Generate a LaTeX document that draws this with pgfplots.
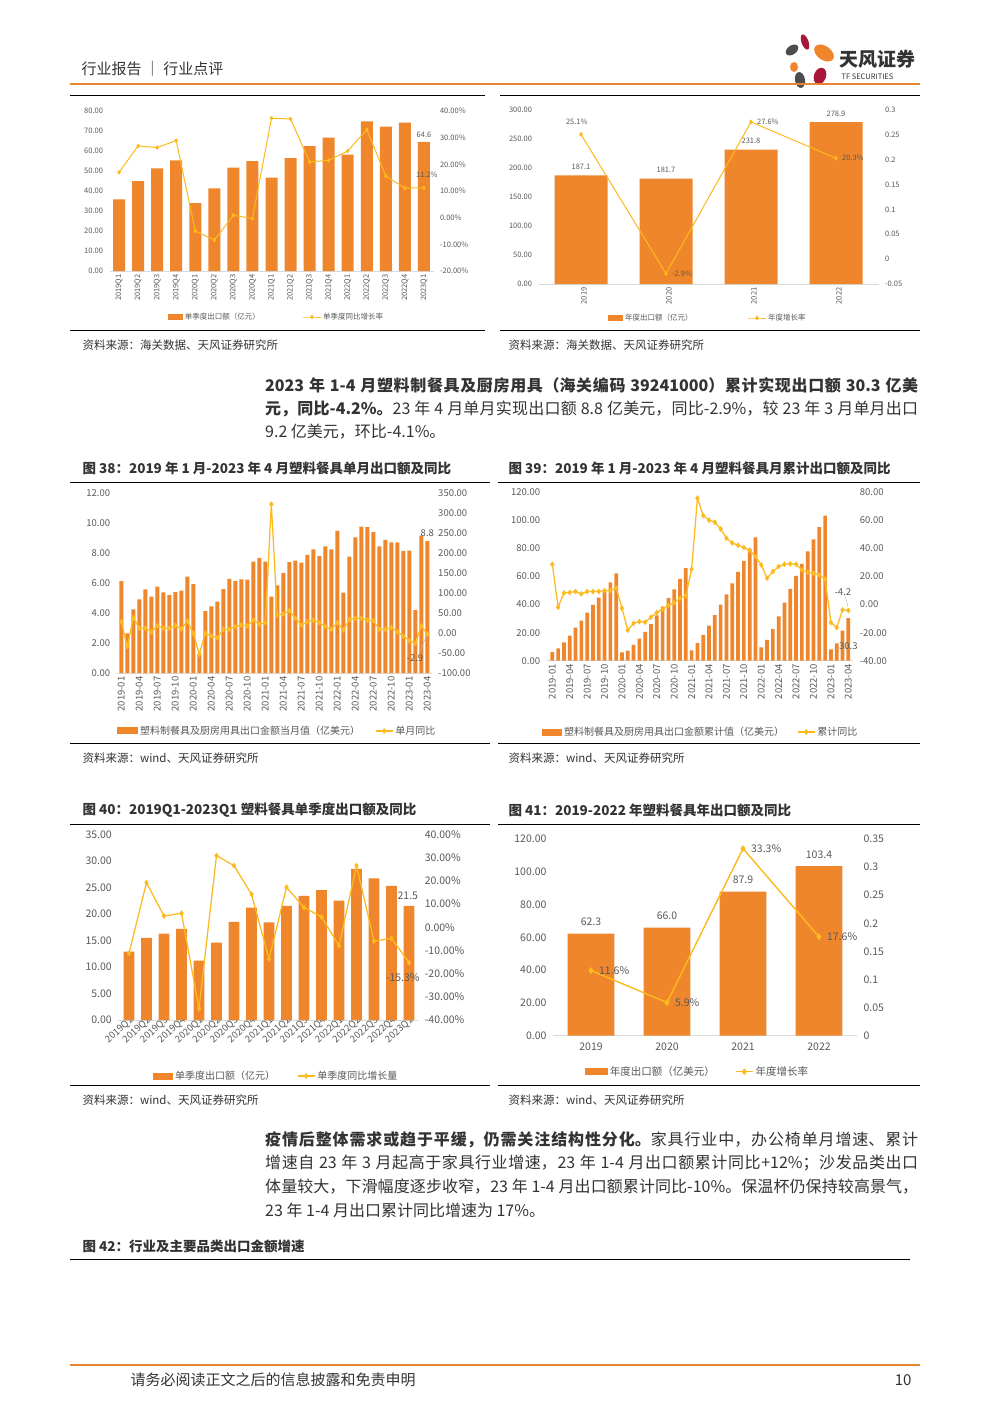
\documentclass[border=0pt]{standalone}
\usepackage{pgfplots}
\pgfplotsset{compat=1.18}
\usepackage{fontspec}
\setmainfont{Noto Sans CJK SC}
\XeTeXlinebreaklocale "zh"
\XeTeXlinebreakskip=0pt plus 1pt minus 0.5pt

\definecolor{barc}{HTML}{F0862B}
\definecolor{linec}{HTML}{FBBA1E}
\definecolor{hdr}{HTML}{E8862F}
\definecolor{thin}{HTML}{F5BC94}
\definecolor{tickc}{HTML}{595959}
\definecolor{axc}{HTML}{D9D9D9}
\definecolor{txt}{HTML}{333333}
\definecolor{logored}{HTML}{A8173A}
\definecolor{logogrey}{HTML}{4D4D4D}

\newcommand{\fs}[1]{\fontsize{#1}{#1}\selectfont}
\newcommand{\jline}[1]{\parbox{653pt}{\parfillskip=0pt\parindent=0pt #1\par}}

\pgfplotsset{
  base/.style={scale only axis, anchor=south west, enlargelimits=false, clip=false,
    major tick length=0pt,
    tick label style={font=\fs{#1}, text=tickc},
    legend style={draw=none, fill=none, inner sep=0pt, outer sep=0pt, anchor=west,
      text=tickc},
    legend cell align=left},
  lax/.style={base=#1, axis x line*=bottom, axis y line*=left,
    y axis line style={draw=none}, x axis line style={draw=axc, line width=0.8pt},
    yticklabel style={xshift=-3pt}},
  rax/.style={base=#1, axis x line=none, axis y line*=right,
    y axis line style={draw=none}, xtick=\empty, yticklabel style={xshift=3pt}},
  ln/.style={linec, line width=1.25pt, mark=diamond*, mark size=1.9pt,
    mark options={fill=linec, draw=linec}},
}

\begin{document}
\begin{tikzpicture}
\begin{scope}[x=1pt,y=-1pt]
\fill[white] (0,0) rectangle (1000,1413);
\useasboundingbox (0,0) rectangle (1000,1413);

% ---------- header ----------
\node[anchor=west, font=\fs{15}, text=txt] at (78,69) {行业报告 ｜ 行业点评};
\fill[logored, rotate around={20:(805,42)}] (805,42) ellipse (3.5 and 8);
\fill[barc, rotate around={-35:(824,53)}] (824,53) ellipse (11 and 7);
\fill[logogrey, rotate around={35:(792,50)}] (792,50) ellipse (7 and 4.5);
\fill[barc] (794,67) ellipse (4 and 5);
\fill[logogrey, rotate around={10:(800,80)}] (800,80) ellipse (5 and 8);
\fill[logored, rotate around={-20:(820,76)}] (820,76) ellipse (6 and 8.5);
\node[anchor=west, font=\bfseries\fs{19}, text=txt] at (836,59) {天风证券};
\node[anchor=west, font=\fs{7.5}, text=txt] at (838,77) {TF SECURITIES};
\draw[hdr, line width=2.5pt] (70,84) -- (920,84);

% ---------- separators ----------
\foreach \yy in {95,330} {
  \draw[thin, line width=0.8pt] (70,\yy) -- (485,\yy);
  \draw[thin, line width=0.8pt] (500,\yy) -- (920,\yy);
}
\foreach \yy in {482,743,824,1085} {
  \draw[thin, line width=0.8pt] (70,\yy) -- (490,\yy);
  \draw[thin, line width=0.8pt] (498,\yy) -- (920,\yy);
}
\draw[thin, line width=0.8pt] (70,1259) -- (910,1259);
\draw[hdr, line width=2.5pt] (70,1365) -- (920,1365);

% ---------- texts ----------
\node[anchor=west, font=\fs{11.5}, text=txt] at (79,345) {资料来源：海关数据、天风证券研究所};
\node[anchor=west, font=\fs{11.5}, text=txt] at (505,345) {资料来源：海关数据、天风证券研究所};
\node[anchor=west, font=\fs{11.5}, text=txt] at (79,758) {资料来源：wind、天风证券研究所};
\node[anchor=west, font=\fs{11.5}, text=txt] at (505,758) {资料来源：wind、天风证券研究所};
\node[anchor=west, font=\fs{11.5}, text=txt] at (79,1100) {资料来源：wind、天风证券研究所};
\node[anchor=west, font=\fs{11.5}, text=txt] at (505,1100) {资料来源：wind、天风证券研究所};

\node[anchor=west, font=\bfseries\fs{13.5}, text=txt] at (79,468) {图 38：2019 年 1 月-2023 年 4 月塑料餐具单月出口额及同比};
\node[anchor=west, font=\bfseries\fs{13.5}, text=txt] at (505,468) {图 39：2019 年 1 月-2023 年 4 月塑料餐具月累计出口额及同比};
\node[anchor=west, font=\bfseries\fs{13.5}, text=txt] at (79,810) {图 40：2019Q1-2023Q1 塑料餐具单季度出口额及同比};
\node[anchor=west, font=\bfseries\fs{13.5}, text=txt] at (505,810) {图 41：2019-2022 年塑料餐具年出口额及同比};
\node[anchor=west, font=\bfseries\fs{13.5}, text=txt] at (79,1246) {图 42：行业及主要品类出口金额增速};

\begin{scope}[every node/.style={anchor=west, font=\fs{16}, text=txt, inner sep=0pt}]
\node at (265,385) {\jline{\bfseries 2023 年 1-4 月塑料制餐具及厨房用具（海关编码 39241000）累计实现出口额 30.3 亿美}};
\node at (265,409) {\jline{{\bfseries 元，同比-4.2\%。}23 年 4 月单月实现出口额 8.8 亿美元，同比-2.9\%，较 23 年 3 月单月出口}};
\node at (265,432) {9.2 亿美元，环比-4.1\%。};
\node at (265,1140) {\jline{{\bfseries 疫情后整体需求或趋于平缓，仍需关注结构性分化。}家具行业中，办公椅单月增速、累计}};
\node at (265,1163) {\jline{增速自 23 年 3 月起高于家具行业增速，23 年 1-4 月出口额累计同比+12\%；沙发品类出口}};
\node at (265,1187) {\jline{体量较大，下滑幅度逐步收窄，23 年 1-4 月出口额累计同比-10\%。保温杯仍保持较高景气，}};
\node at (265,1210) {23 年 1-4 月出口累计同比增速为 17\%。};
\end{scope}
\node[anchor=west, font=\fs{15}, text=txt] at (127,1380) {请务必阅读正文之后的信息披露和免责申明};
\node[anchor=east, font=\fs{15}, text=txt] at (915,1380) {10};
\end{scope}

% ========== chart A: quarterly (top left) ==========
\begin{axis}[lax=7.5, at={(109.5pt,-271pt)}, width=324pt, height=160pt,
  xmin=-0.5, xmax=16.5, ymin=0, ymax=80, ytick={0,10,...,80},
  yticklabels={0.00,10.00,20.00,30.00,40.00,50.00,60.00,70.00,80.00},
  xtick={0,...,16},
  xticklabels={2019Q1,2019Q2,2019Q3,2019Q4,2020Q1,2020Q2,2020Q3,2020Q4,2021Q1,2021Q2,2021Q3,2021Q4,2022Q1,2022Q2,2022Q3,2022Q4,2023Q1},
  xticklabel style={rotate=90, anchor=east},
  legend style={at={(0.18,-0.2875)}, font=\fs{7.5}}]
\addplot[ybar, bar width=12pt, fill=barc, draw=none,
  legend image code/.code={\fill[barc] (0pt,-3pt) rectangle (15pt,3pt);}]
  coordinates {(0,35.8) (1,45.0) (2,51.3) (3,55.3) (4,34.0) (5,41.3) (6,51.7) (7,55.0) (8,46.7) (9,56.5) (10,62.5) (11,66.7) (12,58.2) (13,74.8) (14,72.2) (15,74.2) (16,64.6)};
\addlegendentry{单季度出口额（亿元）}
\node[above=1pt, font=\fs{7.5}, text=tickc] at (axis cs:16,64.6) {64.6};
\end{axis}
\begin{axis}[rax=7.5, at={(109.5pt,-271pt)}, width=324pt, height=160pt,
  xmin=-0.5, xmax=16.5, ymin=-20, ymax=40, ytick={-20,-10,...,40},
  yticklabels={-20.00\%,-10.00\%,0.00\%,10.00\%,20.00\%,30.00\%,40.00\%},
  legend style={at={(0.597,-0.2875)}, font=\fs{7.5}}]
\addplot[ln, line width=1pt, mark size=1.6pt] coordinates {(0,17.0) (1,26.9) (2,26.3) (3,28.9) (4,-5.0) (5,-8.4) (6,0.9) (7,-0.3) (8,37.3) (9,37.0) (10,20.9) (11,21.5) (12,25.0) (13,33.0) (14,15.6) (15,11.1) (16,11.2)};
\addlegendentry{单季度同比增长率}
\node[font=\fs{7.5}, text=tickc] at (axis cs:16.15,16.2) {11.2\%};
\end{axis}

% ========== chart B: yearly (top right) ==========
\begin{axis}[lax=7.5, at={(538.5pt,-284pt)}, width=340pt, height=174pt,
  xmin=-0.5, xmax=3.5, ymin=0, ymax=300, ytick={0,50,...,300},
  yticklabels={0.00,50.00,100.00,150.00,200.00,250.00,300.00},
  xtick={0,1,2,3}, xticklabels={2019,2020,2021,2022},
  xticklabel style={rotate=90, anchor=east, yshift=-3pt},
  legend style={at={(0.2044,-0.1954)}, font=\fs{7.5}}]
\addplot[ybar, bar width=53pt, fill=barc, draw=none,
  legend image code/.code={\fill[barc] (0pt,-3pt) rectangle (15pt,3pt);}]
  coordinates {(0,187.1) (1,181.7) (2,231.8) (3,278.9)};
\addlegendentry{年度出口额（亿元）}
\node[above=2pt, font=\fs{7.5}, text=tickc] at (axis cs:0,187.1) {187.1};
\node[above=2pt, font=\fs{7.5}, text=tickc] at (axis cs:1,181.7) {181.7};
\node[above=2pt, font=\fs{7.5}, text=tickc] at (axis cs:2,231.8) {231.8};
\node[above=2pt, font=\fs{7.5}, text=tickc] at (axis cs:3,278.9) {278.9};
\end{axis}
\begin{axis}[rax=7.5, at={(538.5pt,-284pt)}, width=340pt, height=174pt,
  xmin=-0.5, xmax=3.5, ymin=-0.05, ymax=0.3, ytick={-0.05,0,0.05,0.1,0.15,0.2,0.25,0.3},
  yticklabels={-0.05,0,0.05,0.1,0.15,0.2,0.25,0.3},
  legend style={at={(0.616,-0.1954)}, font=\fs{7.5}}]
\addplot[ln, line width=1pt, mark size=1.7pt] coordinates {(0,0.251) (1,-0.029) (2,0.276) (3,0.203)};
\addlegendentry{年度增长率}
\node[font=\fs{7.5}, text=tickc] at (axis cs:-0.05,0.276) {25.1\%};
\node[anchor=west, font=\fs{7.5}, text=tickc] at (axis cs:1.03,-0.029) {-2.9\%};
\node[anchor=west, font=\fs{7.5}, text=tickc] at (axis cs:2.03,0.276) {27.6\%};
\node[anchor=west, font=\fs{7.5}, text=tickc] at (axis cs:3.03,0.203) {20.3\%};
\end{axis}

% ========== chart C: fig 38 monthly ==========
\begin{axis}[lax=9.5, at={(116.7pt,-673pt)}, width=315pt, height=180pt,
  xmin=-0.77, xmax=51.73, ymin=0, ymax=12, ytick={0,2,...,12},
  yticklabels={0.00,2.00,4.00,6.00,8.00,10.00,12.00},
  xtick={0,3,...,51},
  xticklabels={2019-01,2019-04,2019-07,2019-10,2020-01,2020-04,2020-07,2020-10,2021-01,2021-04,2021-07,2021-10,2022-01,2022-04,2022-07,2022-10,2023-01,2023-04},
  xticklabel style={rotate=90, anchor=east},
  legend style={at={(0.001,-0.322)}, font=\fs{10}}]
\addplot[ybar, bar width=3.9pt, fill=barc, draw=none,
  legend image code/.code={\fill[barc] (0pt,-3.5pt) rectangle (21pt,3.5pt);}]
  coordinates {(0,6.13) (1,2.64) (2,4.24) (3,4.91) (4,5.58) (5,5.09) (6,5.76) (7,5.38) (8,5.20) (9,5.40) (10,5.49) (11,6.42)
  (12,5.93) (13,1.20) (14,4.13) (15,4.44) (16,4.76) (17,5.60) (18,6.27) (19,6.13) (20,6.24) (21,6.22) (22,7.42) (23,7.67)
  (24,7.42) (25,5.09) (26,5.84) (27,6.67) (28,7.40) (29,7.49) (30,7.36) (31,7.87) (32,8.24) (33,7.80) (34,8.44) (35,8.24)
  (36,9.47) (37,5.36) (38,7.76) (39,9.04) (40,9.76) (41,9.73) (42,9.40) (43,8.44) (44,8.87) (45,8.71) (46,8.71) (47,8.15)
  (48,8.16) (49,4.20) (50,9.16) (51,8.80)};
\addlegendentry{塑料制餐具及厨房用具出口金额当月值（亿美元）}
\node[above=1pt, font=\fs{9.5}, text=tickc] at (axis cs:51,8.8) {8.8};
\end{axis}
\begin{axis}[rax=9.5, at={(116.7pt,-673pt)}, width=315pt, height=180pt,
  xmin=-0.77, xmax=51.73, ymin=-100, ymax=350, ytick={-100,-50,...,350},
  yticklabels={-100.00,-50.00,0.00,50.00,100.00,150.00,200.00,250.00,300.00,350.00},
  legend style={at={(0.82,-0.322)}, font=\fs{10}}]
\addplot[ln] coordinates {(0,28) (1,-34) (2,38) (3,12) (4,12) (5,3) (6,18) (7,12) (8,12) (9,19) (10,10) (11,30)
  (12,-1) (13,-53) (14,-1) (15,-7) (16,-12) (17,9) (18,9) (19,16) (20,20) (21,18) (22,32) (23,22)
  (24,26) (25,322) (26,45) (27,47.5) (28,56) (29,37) (30,20) (31,28) (32,32) (33,26) (34,16) (35,9)
  (36,26) (37,7.5) (38,34) (39,37) (40,37) (41,32) (42,31) (43,9) (44,9) (45,14) (46,3) (47,-8)
  (48,-19) (49,-26) (50,18) (51,-2.9)};
\addlegendentry{单月同比}
\draw[gray!60, line width=0.4pt] (axis cs:49.6,-50) -- (axis cs:50.85,-8);
\node[font=\fs{9.5}, text=tickc] at (axis cs:48.95,-62.5) {-2.9};
\end{axis}

% ========== chart D: fig 39 cumulative ==========
\begin{axis}[lax=9.5, at={(546.7pt,-660.7pt)}, width=306.6pt, height=168.4pt,
  xmin=-0.97, xmax=51.86, ymin=0, ymax=120, ytick={0,20,...,120},
  yticklabels={0.00,20.00,40.00,60.00,80.00,100.00,120.00},
  xtick={0,3,...,51},
  xticklabels={2019-01,2019-04,2019-07,2019-10,2020-01,2020-04,2020-07,2020-10,2021-01,2021-04,2021-07,2021-10,2022-01,2022-04,2022-07,2022-10,2023-01,2023-04},
  xticklabel style={rotate=90, anchor=east},
  legend style={at={(-0.0153,-0.4234)}, font=\fs{10}}]
\addplot[ybar, bar width=3.7pt, fill=barc, draw=none,
  legend image code/.code={\fill[barc] (0pt,-3.5pt) rectangle (20pt,3.5pt);}]
  coordinates {(0,6.13) (1,8.77) (2,13.01) (3,17.92) (4,23.50) (5,28.59) (6,34.35) (7,39.73) (8,44.93) (9,50.33) (10,55.82) (11,62.24)
  (12,5.93) (13,7.13) (14,11.26) (15,15.70) (16,20.46) (17,26.06) (18,32.33) (19,38.46) (20,44.70) (21,50.92) (22,58.34) (23,66.01)
  (24,7.42) (25,12.51) (26,18.35) (27,25.02) (28,32.42) (29,39.91) (30,47.27) (31,55.14) (32,63.38) (33,71.18) (34,79.62) (35,87.86)
  (36,9.47) (37,14.83) (38,22.59) (39,31.63) (40,41.39) (41,51.12) (42,60.52) (43,68.96) (44,77.83) (45,86.54) (46,95.25) (47,103.40)
  (48,8.16) (49,12.36) (50,21.52) (51,30.32)};
\addlegendentry{塑料制餐具及厨房用具出口金额累计值（亿美元）}
\node[font=\fs{9.5}, text=tickc] at (axis cs:51.0,10.7) {30.3};
\end{axis}
\begin{axis}[rax=9.5, at={(546.7pt,-660.7pt)}, width=306.6pt, height=168.4pt,
  xmin=-0.97, xmax=51.86, ymin=-40, ymax=80, ytick={-40,-20,...,80},
  yticklabels={-40.00,-20.00,0.00,20.00,40.00,60.00,80.00},
  legend style={at={(0.8166,-0.4234)}, font=\fs{10}}]
\addplot[ln] coordinates {(0,28.7) (1,-1.9) (2,8.3) (3,8.6) (4,9.3) (5,7.6) (6,9.3) (7,9.3) (8,9.3) (9,10.0) (10,10.0) (11,11.9)
  (12,-2.6) (13,-18.3) (14,-13.3) (15,-12.1) (16,-12.6) (17,-9.0) (18,-5.7) (19,-3.3) (20,-0.7) (21,1.4) (22,4.5) (23,6.2)
  (24,25.2) (25,75.8) (26,63.4) (27,60.1) (28,58.7) (29,53.9) (30,47.3) (31,43.9) (32,42.3) (33,40.6) (34,38.7) (35,34.2)
  (36,28.3) (37,18.8) (38,23.5) (39,27.1) (40,28.7) (41,29.0) (42,28.7) (43,24.7) (44,23.0) (45,22.3) (46,21.1) (47,18.1)
  (48,-12.8) (49,-16.4) (50,-3.8) (51,-4.2)};
\addlegendentry{累计同比}
\draw[gray!60, line width=0.4pt] (axis cs:50.5,5.5) -- (axis cs:50.95,-1.5);
\node[font=\fs{9.5}, text=tickc] at (axis cs:50.07,9) {-4.2};
\end{axis}

% ========== chart E: fig 40 quarterly ==========
\begin{axis}[lax=10.5, at={(118.3pt,-1020pt)}, width=300pt, height=185.7pt,
  xmin=-0.61, xmax=16.53, ymin=0, ymax=35, ytick={0,5,...,35},
  yticklabels={0.00,5.00,10.00,15.00,20.00,25.00,30.00,35.00},
  xtick={0,...,16},
  xticklabels={2019Q1,2019Q2,2019Q3,2019Q4,2020Q1,2020Q2,2020Q3,2020Q4,2021Q1,2021Q2,2021Q3,2021Q4,2022Q1,2022Q2,2022Q3,2022Q4,2023Q1},
  xticklabel style={rotate=42, anchor=east, xshift=4pt, yshift=-1pt, font=\fs{9.5}, inner sep=1pt},
  legend style={at={(0.1157,-0.3016)}, font=\fs{10}}]
\addplot[ybar, bar width=10.7pt, fill=barc, draw=none,
  legend image code/.code={\fill[barc] (0pt,-3.5pt) rectangle (20pt,3.5pt);}]
  coordinates {(0,12.9) (1,15.5) (2,16.3) (3,17.2) (4,11.2) (5,14.6) (6,18.5) (7,21.2) (8,18.4) (9,21.5) (10,23.4) (11,24.5) (12,22.5) (13,28.5) (14,26.7) (15,25.3) (16,21.5)};
\addlegendentry{单季度出口额（亿元）}
\node[font=\fs{10.5}, text=tickc] at (axis cs:15.93,23.43) {21.5};
\end{axis}
\begin{axis}[rax=10.5, at={(118.3pt,-1020pt)}, width=300pt, height=185.7pt,
  xmin=-0.61, xmax=16.53, ymin=-40, ymax=40, ytick={-40,-30,...,40},
  yticklabels={-40.00\%,-30.00\%,-20.00\%,-10.00\%,0.00\%,10.00\%,20.00\%,30.00\%,40.00\%},
  legend style={at={(0.5957,-0.3016)}, font=\fs{10}}]
\addplot[ln] coordinates {(0,-11.3) (1,19.2) (2,4.8) (3,6.0) (4,-35.0) (5,30.8) (6,26.5) (7,14.2) (8,-13.7) (9,17.2) (10,8.5) (11,4.4) (12,-8.0) (13,26.5) (14,-6.0) (15,-4.8) (16,-15.3)};
\addlegendentry{单季度同比增长量}
\node[font=\fs{10.5}, text=tickc] at (axis cs:15.64,-21.8) {-15.3\%};
\end{axis}

% ========== chart F: fig 41 yearly ==========
\begin{axis}[lax=10.5, at={(553pt,-1035.7pt)}, width=304pt, height=196.7pt,
  xmin=-0.5, xmax=3.5, ymin=0, ymax=120, ytick={0,20,...,120},
  yticklabels={0.00,20.00,40.00,60.00,80.00,100.00,120.00},
  xtick={0,1,2,3}, xticklabels={2019,2020,2021,2022},
  xticklabel style={yshift=-4pt},
  legend style={at={(0.105,-0.183)}, font=\fs{10.5}}]
\addplot[ybar, bar width=46.7pt, fill=barc, draw=none,
  legend image code/.code={\fill[barc] (0pt,-3.5pt) rectangle (23pt,3.5pt);}]
  coordinates {(0,62.3) (1,66.0) (2,87.9) (3,103.4)};
\addlegendentry{年度出口额（亿美元）}
\node[above=4pt, font=\fs{10.5}, text=tickc] at (axis cs:0,62.3) {62.3};
\node[above=4pt, font=\fs{10.5}, text=tickc] at (axis cs:1,66.0) {66.0};
\node[above=4pt, font=\fs{10.5}, text=tickc] at (axis cs:2,87.9) {87.9};
\node[above=4pt, font=\fs{10.5}, text=tickc] at (axis cs:3,103.4) {103.4};
\end{axis}
\begin{axis}[rax=10.5, at={(553pt,-1035.7pt)}, width=304pt, height=196.7pt,
  xmin=-0.5, xmax=3.5, ymin=0, ymax=0.35, ytick={0,0.05,...,0.35},
  yticklabels={0,0.05,0.1,0.15,0.2,0.25,0.3,0.35},
  legend style={at={(0.599,-0.183)}, font=\fs{10.5}}]
\addplot[ln, line width=1.4pt, mark size=2.3pt] coordinates {(0,0.116) (1,0.059) (2,0.333) (3,0.176)};
\addlegendentry{年度增长率}
\node[anchor=west, font=\fs{10.5}, text=tickc] at (axis cs:0.06,0.116) {11.6\%};
\node[anchor=west, font=\fs{10.5}, text=tickc] at (axis cs:1.06,0.059) {5.9\%};
\node[anchor=west, font=\fs{10.5}, text=tickc] at (axis cs:2.06,0.333) {33.3\%};
\node[anchor=west, font=\fs{10.5}, text=tickc] at (axis cs:3.06,0.176) {17.6\%};
\end{axis}
\end{tikzpicture}
\end{document}
